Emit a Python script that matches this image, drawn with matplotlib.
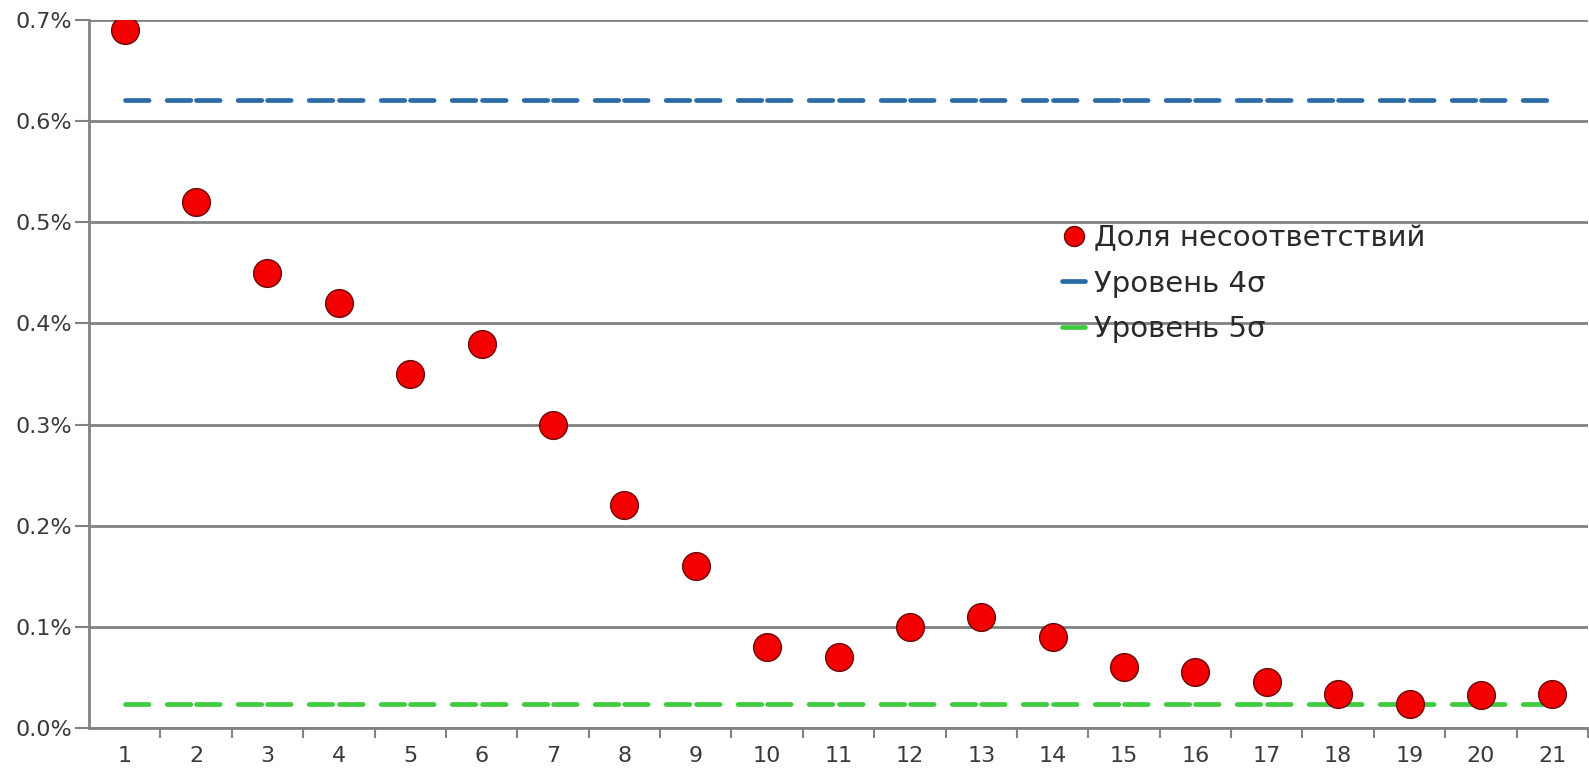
import matplotlib
matplotlib.use("Agg")
import matplotlib.pyplot as plt
from matplotlib.ticker import FixedLocator, FuncFormatter

# sample numbers and the measured share of nonconformities, %
samples = list(range(1, 22))
share = [0.69, 0.52, 0.45, 0.42, 0.35, 0.38, 0.30, 0.22, 0.16, 0.08, 0.07,
         0.10, 0.11, 0.09, 0.06, 0.055, 0.045, 0.034, 0.024, 0.033, 0.034]
# sigma levels, %
level_4s = [0.621] * len(samples)
level_5s = [0.0233] * len(samples)

labels = ["Доля несоответствий", "Уровень 4σ", "Уровень 5σ"]

plt.rcParams['font.family'] = ['DejaVu Sans']
plt.rcParams['lines.scale_dashes'] = False

fig = plt.figure(figsize=(15.89, 7.77), dpi=100)
ax = fig.add_axes([89 / 1589, 1 - 728 / 777, 1499 / 1589, 708 / 777])

grid_col = "#828282"

# dashed levels, drawn segment by segment like the spreadsheet does
for lvl, col, lab in [(level_4s, "#2b6ca8", labels[1]), (level_5s, "#3fcc3f", labels[2])]:
    for i in range(len(samples) - 1):
        ax.plot(samples[i:i + 2], lvl[i:i + 2], color=col, lw=3.4,
                dashes=(17, 13), solid_capstyle='round', dash_capstyle='round',
                label=lab if i == 0 else None, zorder=2)

ax.plot(samples, share, ls='none', marker='o', ms=20, mfc='#f20000',
        mec='#6a0a0a', mew=1.0, label=labels[0], zorder=3)

ax.set_xlim(0.5, 21.5)
ax.set_ylim(0, 0.7)
ax.yaxis.set_major_locator(FixedLocator([i / 10 for i in range(8)]))
ax.yaxis.set_major_formatter(FuncFormatter(lambda v, p: f"{v:.1f}%"))
ax.set_xticks(samples)
ax.set_xticks([s + 0.5 for s in samples], minor=True)
ax.tick_params(axis='x', which='major', length=0, pad=13, labelsize=16, colors='#3a3a3a')
ax.tick_params(axis='x', which='minor', length=7, width=1.5, color=grid_col)
ax.tick_params(axis='y', length=10, width=1.5, color=grid_col, labelsize=16,
               labelcolor='#3a3a3a', pad=2)

ax.grid(axis='y', color=grid_col, lw=2)
ax.set_axisbelow(True)
for s in ['top', 'right']:
    ax.spines[s].set_visible(False)
for s in ['left', 'bottom']:
    ax.spines[s].set_color(grid_col)
    ax.spines[s].set_linewidth(2)

h, l = ax.get_legend_handles_labels()
order = [l.index(x) for x in labels]
leg = ax.legend([h[i] for i in order], [l[i] for i in order], frameon=False,
                loc='upper left', bbox_to_anchor=(1062 / 1589, 1 - 224 / 777),
                bbox_transform=fig.transFigure, fontsize=21, handlelength=0.8,
                handletextpad=0.3, labelspacing=0.6, markerscale=0.72,
                borderaxespad=0, borderpad=0)
for t in leg.get_texts():
    t.set_color('#2a2a2a')
for lh in leg.get_lines()[1:]:
    lh.set_dashes((None, None))
    lh.set_linestyle('-')

fig.savefig("out.png", dpi=100)
